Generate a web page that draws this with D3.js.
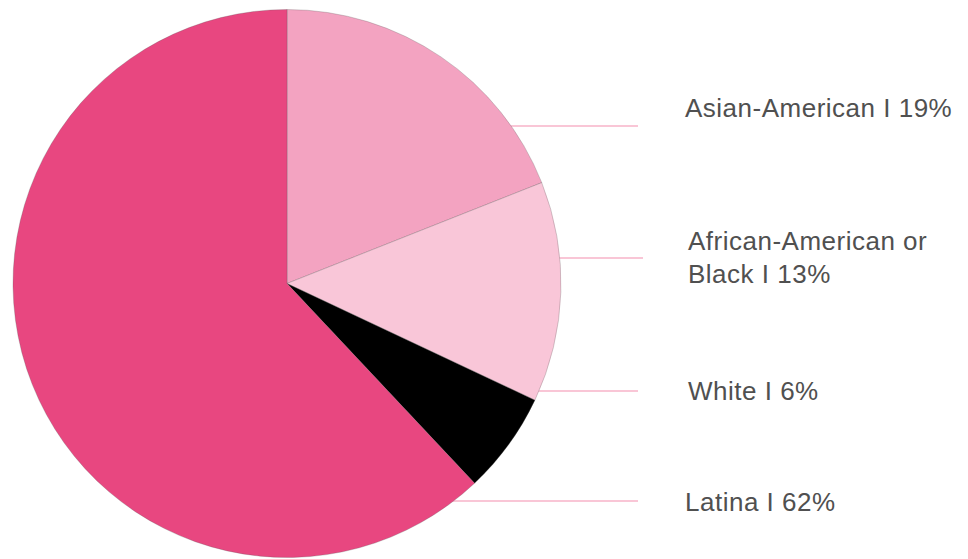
<!DOCTYPE html>
<html>
<head>
<meta charset="utf-8">
<script src="https://cdn.jsdelivr.net/npm/d3@7/dist/d3.min.js"></script>
<style>
  html, body { margin: 0; padding: 0; background: #fff; }
  svg { display: block; }
  .label { font-family: "Liberation Sans", Arial, Helvetica, sans-serif; font-size: 26px; letter-spacing: 0.5px; fill: #505050; }
</style>
</head>
<body>
<svg id="chart" width="968" height="559"></svg>
<script>
// Share of respondents by race / ethnicity
const groups = ["Asian-American", "African-American or Black", "White", "Latina"];
const shares = [19, 13, 6, 62];
const labelLines = [
  ["Asian-American I 19%"],
  ["African-American or", "Black I 13%"],
  ["White I 6%"],
  ["Latina I 62%"]
];
const colors = ["#f3a3c1", "#f9c6d8", "#000000", "#e84780"];

// Layout
const W = 968, H = 559;
const cx = 287, cy = 283.5, radius = 274;
const leaderY = [126, 258, 391, 501];
const leaderEnd = [638, 643, 638, 638];
const labelX = [685, 688, 688, 685];
const labelBaseline = [117, 250, 400, 511];
const lineHeight = 32.5;

const svg = d3.select("#chart");

const data = groups.map((g, i) => ({ group: g, value: shares[i], color: colors[i], lines: labelLines[i] }));

// Leader lines sit behind the pie and run out to the labels
svg.append("g")
  .selectAll("line")
  .data(data)
  .join("line")
  .attr("x1", cx)
  .attr("x2", (d, i) => leaderEnd[i])
  .attr("y1", (d, i) => leaderY[i])
  .attr("y2", (d, i) => leaderY[i])
  .attr("stroke", "#f9c6d6")
  .attr("stroke-width", 2);

const pie = d3.pie().sort(null).value(d => d.value).startAngle(0).endAngle(2 * Math.PI);
const arc = d3.arc().innerRadius(0).outerRadius(radius);

svg.append("g")
  .attr("transform", `translate(${cx},${cy})`)
  .selectAll("path")
  .data(pie(data))
  .join("path")
  .attr("d", arc)
  .attr("fill", d => d.data.color)
  .attr("stroke", "rgba(90,90,90,0.45)")
  .attr("stroke-width", 0.6);

const labels = svg.append("g")
  .selectAll("text")
  .data(data)
  .join("text")
  .attr("class", "label")
  .attr("x", (d, i) => labelX[i])
  .attr("y", (d, i) => labelBaseline[i]);

labels.selectAll("tspan")
  .data(d => d.lines)
  .join("tspan")
  .attr("x", function () { return this.parentNode.getAttribute("x"); })
  .attr("dy", (d, j) => j === 0 ? 0 : lineHeight)
  .text(d => d);
</script>
</body>
</html>
